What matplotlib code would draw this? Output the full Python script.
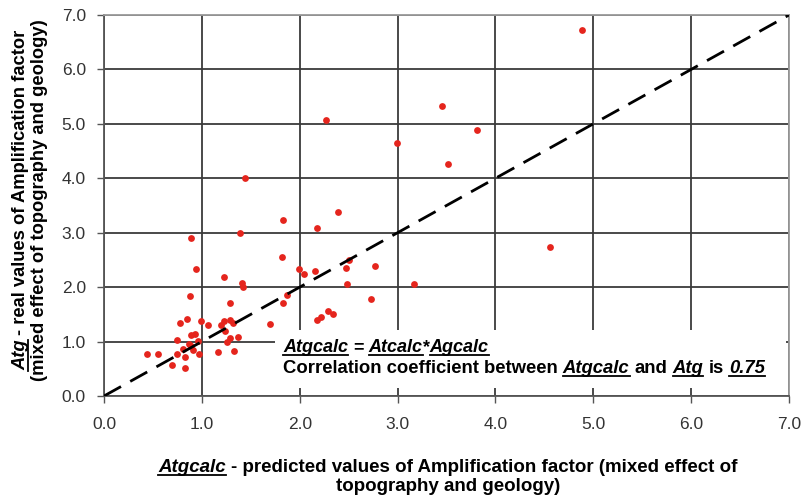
import matplotlib
matplotlib.use("Agg")
import matplotlib.pyplot as plt
from matplotlib.lines import Line2D
from matplotlib.patches import Rectangle

# Atgcalc (predicted) vs Atg (real)
x_calc = [4.88, 3.45, 3.81, 2.99, 3.52, 4.56, 3.17, 2.27, 1.44, 1.83,
          2.39, 2.18, 0.89, 1.39, 0.94, 1.82, 1.23, 1.99, 2.04, 2.16,
          2.47, 2.50, 2.77, 1.41, 1.42, 2.48, 0.88, 1.87, 1.83, 2.73,
          1.29, 2.29, 2.34, 2.22, 2.18, 1.70, 0.85, 0.78, 0.99, 1.06,
          1.23, 1.29, 1.32, 1.20, 1.24, 1.37, 1.29, 1.26, 0.89, 0.93,
          0.96, 0.87, 0.89, 0.91, 0.81, 0.75, 0.97, 0.75, 0.83, 0.69,
          0.83, 0.44, 0.55, 1.16, 1.33]
y_real = [6.73, 5.33, 4.89, 4.65, 4.26, 2.74, 2.06, 5.07, 4.01, 3.24,
          3.38, 3.09, 2.91, 2.99, 2.33, 2.56, 2.19, 2.33, 2.24, 2.30,
          2.35, 2.49, 2.38, 2.07, 2.01, 2.06, 1.84, 1.85, 1.71, 1.79,
          1.70, 1.57, 1.50, 1.46, 1.40, 1.32, 1.41, 1.34, 1.38, 1.31,
          1.38, 1.40, 1.35, 1.31, 1.20, 1.09, 1.06, 1.00, 1.12, 1.13,
          1.01, 0.96, 0.91, 0.85, 0.86, 1.02, 0.77, 0.78, 0.71, 0.57,
          0.51, 0.77, 0.78, 0.80, 0.83]
ticks = [0, 1, 2, 3, 4, 5, 6, 7]
tick_labels = ["0.0", "1.0", "2.0", "3.0", "4.0", "5.0", "6.0", "7.0"]

W, H = 805, 498
FAM = ['Liberation Sans', 'DejaVu Sans']

fig = plt.figure(figsize=(W / 100, H / 100), dpi=100)
ax = fig.add_axes([104 / W, 1 - 396 / H, (789 - 104) / W, (396 - 15) / H])

ax.scatter(x_calc, y_real, s=24, color='#e5251d', linewidths=0, zorder=3)
ax.plot([0, 7], [0, 7], color='black', lw=2, ls=(0, (7, 3.8)), zorder=4)

ax.set_xlim(0, 7)
ax.set_ylim(0, 7)
ax.set_xticks(ticks)
ax.set_yticks(ticks)
ax.set_xticklabels(tick_labels, family=FAM)
ax.set_yticklabels(tick_labels, family=FAM)
ax.tick_params(direction='out', length=5, width=1, color='#555555',
               labelsize=12.5, labelcolor='#333333')
ax.tick_params(axis='y', pad=8)
ax.tick_params(axis='x', pad=10)
ax.grid(color='#3a3a3a', lw=1.3)
ax.set_axisbelow(True)
for s in ['top', 'right']:
    ax.spines[s].set_color('#9a9a9a')
    ax.spines[s].set_linewidth(1.3)
for s in ['left', 'bottom']:
    ax.spines[s].set_color('#555555')
    ax.spines[s].set_linewidth(1.3)

# white box behind the formula text
fig.patches.append(Rectangle((275 / W, 1 - 388 / H), (786 - 275) / W, 58 / H,
                             transform=fig.transFigure, facecolor='white',
                             edgecolor='none', zorder=2))

r = fig.canvas.get_renderer()


def text_len(t, rot):
    bb = t.get_window_extent(r)
    return bb.height if rot else bb.width


def rich(segs, x, y, size, rot=0, center=True):
    # x, y: baseline start (or centre) in figure pixels from bottom-left
    probe = fig.text(0, 0, "a a", fontsize=size, fontweight='bold', family=FAM)
    probe2 = fig.text(0, 0, "aa", fontsize=size, fontweight='bold', family=FAM)
    gap = text_len(probe, 0) - text_len(probe2, 0)
    probe.remove()
    probe2.remove()
    arts = []
    total = 0
    for txt, under in segs:
        sp = gap if txt.startswith(" ") else 0
        t = fig.text(0, 0, txt.strip(), fontsize=size, fontweight='bold',
                     family=FAM, style='italic' if under else 'normal',
                     rotation=rot, rotation_mode='anchor',
                     ha='left', va='baseline', zorder=5)
        ln = text_len(t, rot)
        arts.append((t, sp, ln, under))
        total += sp + ln
    pos = (y if rot else x) - (total / 2 if center else 0)
    for t, sp, ln, under in arts:
        pos += sp
        if rot:
            t.set_position((x / W, pos / H))
            if under:
                fig.add_artist(Line2D([(x + 2.5) / W] * 2, [pos / H, (pos + ln) / H],
                                      color='black', lw=1.3, zorder=5))
        else:
            t.set_position((pos / W, y / H))
            if under:
                fig.add_artist(Line2D([pos / W, (pos + ln) / W], [(y - 2.5) / H] * 2,
                                      color='black', lw=1.3, zorder=5))
        pos += ln


# formula and correlation text
rich([("Atgcalc", True), (" =", False), (" Atcalc", True), ("*", False),
      ("Agcalc", True)], 283, H - 352, 13, center=False)
rich([("Correlation coefficient between", False), (" Atgcalc", True),
      (" and", False), (" Atg", True), (" is", False), (" 0.75", True)],
     283, H - 373, 13.3, center=False)

# axis titles
rich([("Atgcalc", True), (" - predicted values of Amplification factor (mixed effect of", False)],
     448, H - 472, 13.5)
rich([("topography and geology)", False)], 448, H - 491, 13.5)
rich([("Atg", True), (" - real values of Amplification factor", False)],
     25, H - 200, 13.2, rot=90)
rich([("(mixed effect of topography and geology)", False)],
     43.5, H - 200, 13.2, rot=90)

fig.savefig("out.png", dpi=100)
